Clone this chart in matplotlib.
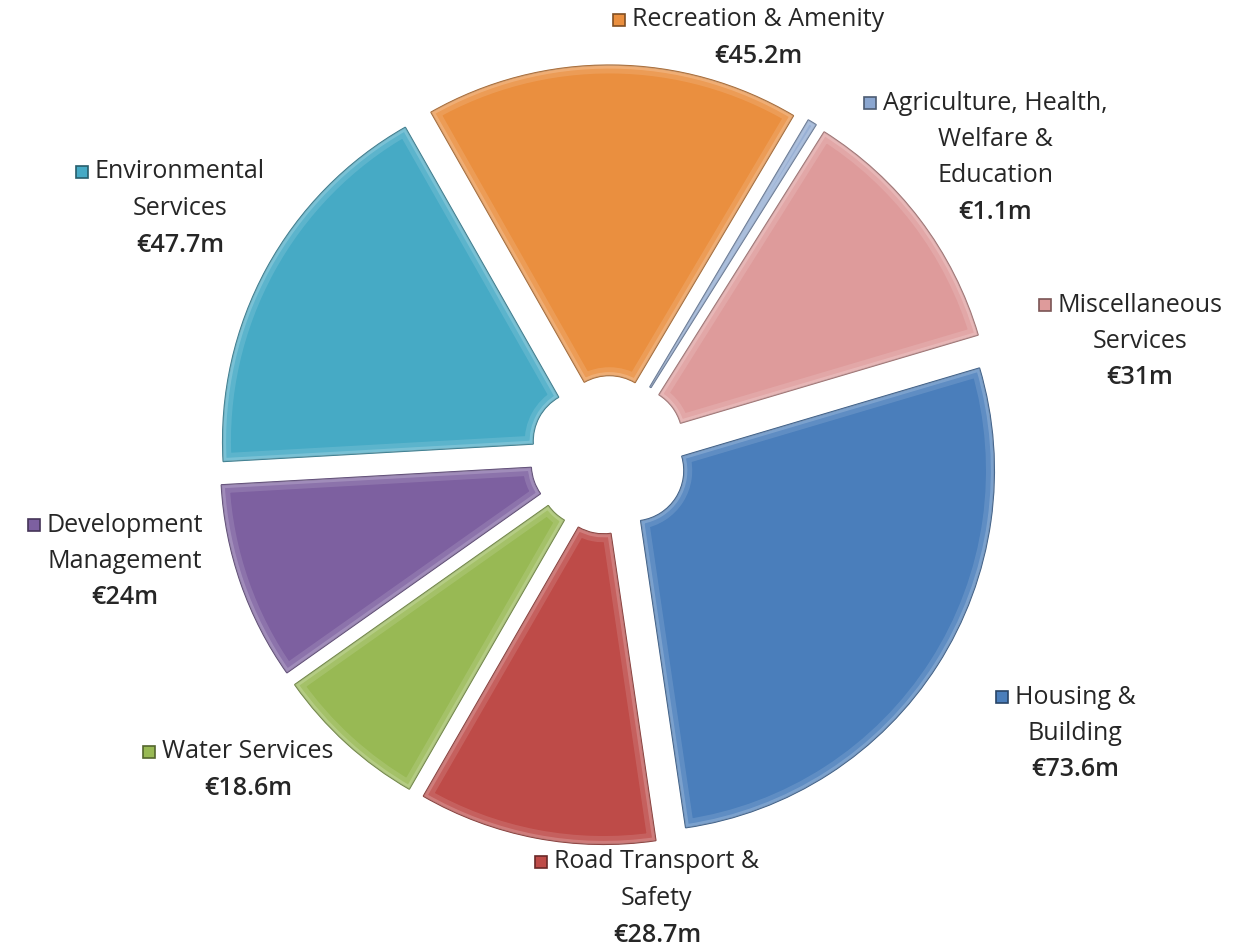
import matplotlib.pyplot as plt
import matplotlib.colors as mcolors
from matplotlib.patches import PathPatch

# dati
categories = ['Housing &\nBuilding', 'Road Transport &\nSafety', 'Water Services',
              'Development\nManagement', 'Environmental\nServices', 'Recreation & Amenity',
              'Agriculture, Health,\nWelfare &\nEducation', 'Miscellaneous\nServices']
values = [73.6, 28.7, 18.6, 24, 47.7, 45.2, 1.1, 31]
value_labels = ['€73.6m', '€28.7m', '€18.6m', '€24m', '€47.7m', '€45.2m', '€1.1m', '€31m']
colors = ['#4a7ebb', '#be4b48', '#98b954', '#7d60a0', '#46aac5', '#ea8f3f', '#8aa6d0', '#de9b9b']

# posizione delle etichette (pixel, centro della prima riga)
label_pos = [(1075, 697), (657, 862), (248, 752), (125, 525), (180, 172),
             (758, 20), (995, 103), (1140, 305)]

W, H = 1246, 950
cx, cy, scale = 609, 455, 361

plt.rcParams['font.family'] = ['Open Sans', 'DejaVu Sans']
fig = plt.figure(figsize=(W / 100, H / 100), dpi=100)
ax = fig.add_axes([0, 0, 1, 1])

wedges, _ = ax.pie(values, colors=colors, explode=[0.08] * len(values), startangle=16.5,
                   counterclock=False, radius=1,
                   wedgeprops=dict(width=0.86, linewidth=1.0))
# effetto smussato: luce chiara lungo i bordi di ogni spicchio
for w, c in zip(wedges, colors):
    r, g, b = mcolors.to_rgb(c)
    w.set_edgecolor((r * 0.7, g * 0.7, b * 0.7))
    path = w.get_path()
    for lw, a in [(12, 0.12), (5, 0.18)]:
        p = PathPatch(path, transform=w.get_transform(), facecolor='none',
                      edgecolor='white', lw=lw, alpha=a)
        p.set_clip_path(w)
        ax.add_patch(p)

ax.set_xlim(-cx / scale, (W - cx) / scale)
ax.set_ylim(-(H - cy) / scale, cy / scale)
ax.set_aspect('equal')
ax.axis('off')

# etichette con il quadratino colorato
line_h = 36.5
text_color = '#262626'
first_lines = []
for i, (name, val) in enumerate(zip(categories, value_labels)):
    x, y = label_pos[i]
    lines = name.split('\n')
    for j, line in enumerate(lines):
        t = fig.text(x / W, 1 - (y + j * line_h) / H, line, ha='center', va='center',
                     fontsize=18, color=text_color)
        if j == 0:
            first_lines.append(t)
    fig.text(x / W, 1 - (y + len(lines) * line_h) / H, val, ha='center', va='center',
             fontsize=18, fontweight='semibold', color=text_color)

fig.canvas.draw()
renderer = fig.canvas.get_renderer()
for t, c in zip(first_lines, colors):
    bb = t.get_window_extent(renderer)
    r, g, b = mcolors.to_rgb(c)
    ax.plot([(bb.x0 - 13) / W], [(bb.y0 + bb.y1) / 2 / H], marker='s', ms=9,
            mfc=c, mec=(r * 0.55, g * 0.55, b * 0.55), mew=1.2,
            transform=fig.transFigure, clip_on=False)

fig.savefig('out.png', dpi=100, facecolor='white')
